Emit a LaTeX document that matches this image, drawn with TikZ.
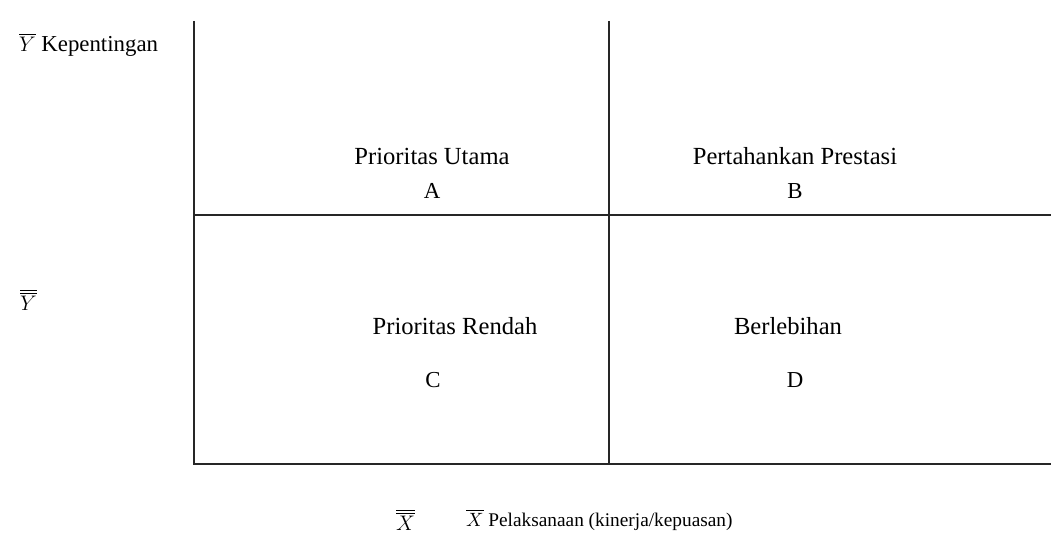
\documentclass[tikz,border=0pt]{standalone}
\usepackage{fontspec}
\setmainfont{Liberation Serif}
\usetikzlibrary{positioning}
\tikzset{
  axisline/.style={line width=1.1pt,black!85},
  quadlabel/.style={font=\fontsize{14}{16}\selectfont,align=center,inner sep=1pt},
  quadletter/.style={font=\fontsize{13}{15}\selectfont,inner sep=1pt},
  axislabel/.style={font=\fontsize{11}{13}\selectfont,anchor=west,inner sep=1pt},
}
\begin{document}
\begin{tikzpicture}[x=0.02cm,y=-0.02cm,node distance=0.3cm]
  \useasboundingbox (0,0) rectangle (1051,546);
  % frame and cross lines
  \coordinate (tl) at (194,21);
  \coordinate (bl) at (194,464);
  \coordinate (br) at (1051,464);
  \coordinate (ml) at (194,215);
  \coordinate (mr) at (1051,215);
  \coordinate (mt) at (609,21);
  \coordinate (mb) at (609,464);
  \draw[axisline] (tl) -- (bl) -- (br);
  \draw[axisline] (ml) -- (mr);
  \draw[axisline] (mt) -- (mb);
  % quadrants
  \node[quadlabel] (qa) at (432,156) {Prioritas Utama};
  \node[quadletter,below=0.3cm of qa] (la) {A};
  \node[quadlabel] (qb) at (795,156) {Pertahankan Prestasi};
  \node[quadletter,below=0.3cm of qb] (lb) {B};
  \node[quadlabel] (qc) at (455,326) {Prioritas Rendah};
  \node[quadletter,below=0.68cm of qc,xshift=-0.44cm] (lc) {C};
  \node[quadlabel] (qd) at (788,326) {Berlebihan};
  \node[quadletter,below=0.68cm of qd,xshift=0.14cm] (ld) {D};
  % axis labels
  \node[axislabel,font=\fontsize{13}{15}\selectfont] (ylab) at (17,45) {$\overline{Y}$ Kepentingan};
  \node[axislabel,font=\fontsize{13}{15}\selectfont] (ymean) at (18,300) {$\overline{\overline{Y}}$};
  \node[axislabel,font=\fontsize{13}{15}\selectfont] (xmean) at (394,520) {$\overline{\overline{X}}$};
  \node[axislabel] (xlab) at (464,520) {$\overline{X}$ Pelaksanaan (kinerja/kepuasan)};
\end{tikzpicture}
\end{document}
